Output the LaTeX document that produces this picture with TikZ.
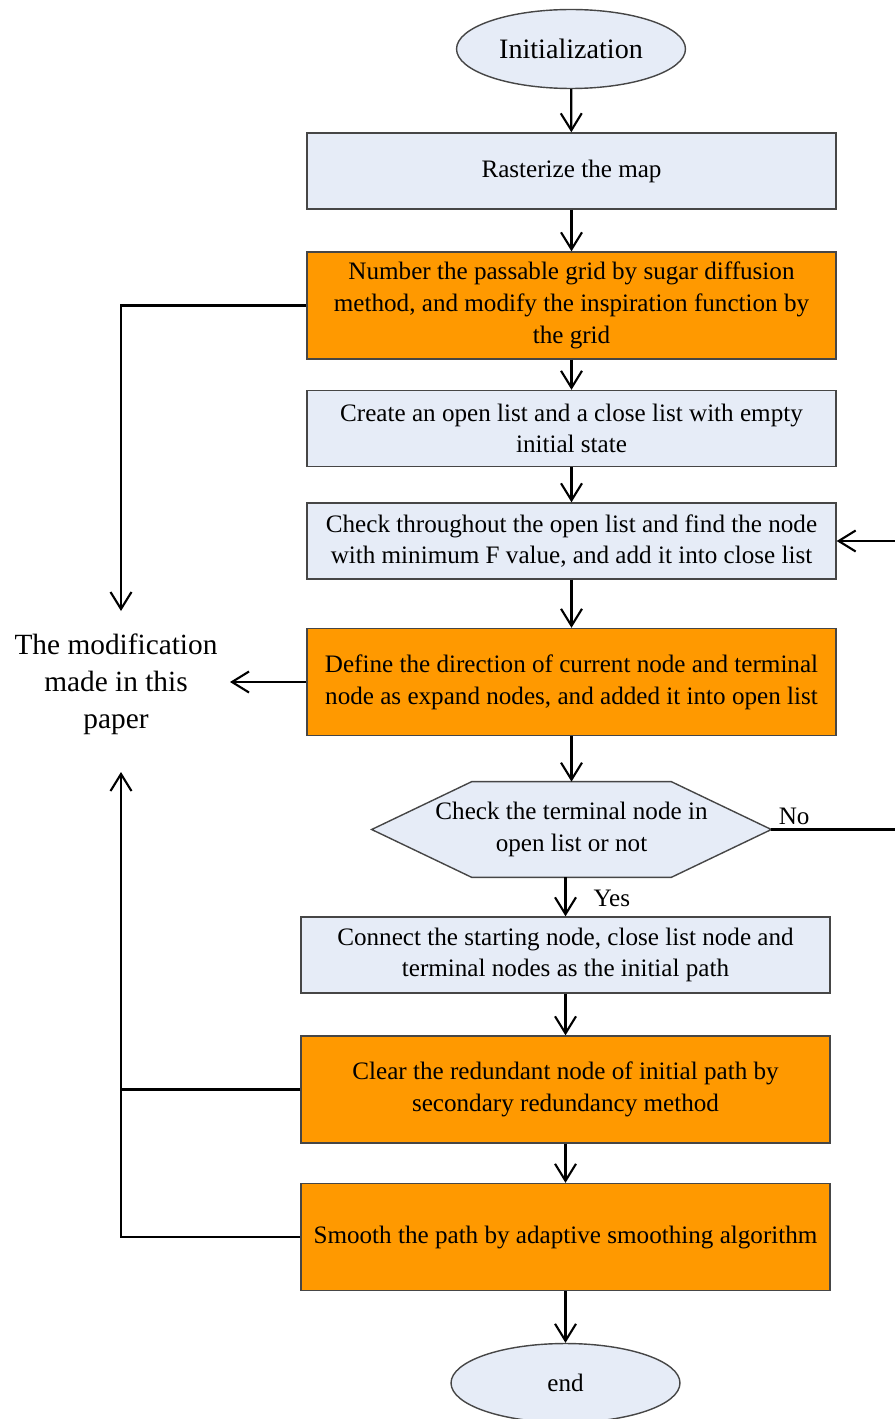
\documentclass[tikz,border=0pt]{standalone}
\usepackage{fontspec}
\setmainfont{Liberation Serif}
\usetikzlibrary{shapes.geometric,arrows.meta,calc}

\definecolor{boxblue}{RGB}{230,236,247}
\definecolor{boxorange}{RGB}{255,153,0}
\definecolor{edgegray}{RGB}{70,70,70}

\begin{document}
\begin{tikzpicture}[x=0.02cm, y=-0.02cm,
  boxtext/.style={font=\fontsize{14.3}{18.1}\selectfont, align=center},
  plainbox/.style={boxtext, draw=edgegray, line width=0.8pt, fill=boxblue,
    minimum width=10.58cm, minimum height=1.52cm, inner sep=0pt},
  hotbox/.style={plainbox, fill=boxorange, minimum height=2.14cm},
  terminal/.style={ellipse, draw=edgegray, line width=0.8pt, fill=boxblue,
    minimum width=4.58cm, minimum height=1.58cm, inner sep=0pt},
  flow/.style={draw=black, line width=1.3pt,
    -{Straight Barb[length=0.34cm,width=0.42cm,line width=1.2pt]}},
  line/.style={draw=black, line width=1.3pt}
]
\useasboundingbox (0,0) rectangle (895,1419);
\clip (0,0) rectangle (895,1419);

% main column
\node[terminal, font=\fontsize{16}{19}\selectfont] (init) at (571,49) {Initialization};
\node[plainbox] (rast) at (571.5,171) {Rasterize the map};
\node[hotbox] (sugar) at (571.5,305.5) {Number the passable grid by sugar diffusion\\method, and modify the inspiration function by\\the grid};
\node[plainbox] (lists) at (571.5,428.5) {Create an open list and a close list with empty\\initial state};
\node[plainbox] (minf) at (571.5,541) {Check throughout the open list and find the node\\with minimum F value, and add it into close list};
\node[hotbox] (expand) at (571.5,682) {Define the direction of current node and terminal\\node as expand nodes, and added it into open list};

% decision hexagon
\node[boxtext, minimum width=7.98cm, minimum height=1.9cm, inner sep=0pt] (check) at (571.5,829.5) {};
\fill[boxblue, draw=edgegray, line width=0.8pt]
  (check.west) -- ($(check.north west)+(100,0)$) -- ($(check.north east)+(-100,0)$)
  -- (check.east) -- ($(check.south east)+(-100,0)$) -- ($(check.south west)+(100,0)$) -- cycle;
\node[boxtext] at (check) {Check the terminal node in\\open list or not};

\node[plainbox] (connect) at (565.5,955) {Connect the starting node, close list node and\\terminal nodes as the initial path};
\node[hotbox] (clear) at (565.5,1089.5) {Clear the redundant node of initial path by\\secondary redundancy method};
\node[hotbox] (smooth) at (565.5,1237) {Smooth the path by adaptive smoothing algorithm};
\node[terminal, font=\fontsize{14.3}{17}\selectfont] (end) at (565.5,1383) {end};

% side note
\node[font=\fontsize{16.7}{21}\selectfont, align=center, inner sep=0pt] (note) at (116,684) {The modification\\made in this\\paper};

% main flow
\draw[flow] (init) -- (rast);
\draw[flow] (rast) -- (sugar);
\draw[flow] (sugar) -- (lists);
\draw[flow] (lists) -- (minf);
\draw[flow] (minf) -- (expand);
\draw[flow] (expand) -- (check.north);
\draw[flow] (connect.north |- check.south) -- node[right, boxtext, xshift=12pt, yshift=-1pt] {Yes} (connect.north);
\draw[flow] (connect) -- (clear);
\draw[flow] (clear) -- (smooth);
\draw[flow] (smooth) -- (end);

% loop back when the terminal node is not yet in the open list
\coordinate (rightrail) at (898,829.5);
\draw[line] (check.east) -- node[above, boxtext, pos=0.18, yshift=-1pt] {No} (rightrail);
\draw[flow] (rightrail) -- (rightrail |- minf.east) -- (minf.east);

% links to the side note
\coordinate (notetop) at (121,611);
\coordinate (notebottom) at (121,772);
\coordinate (noteright) at (230,682);
\draw[flow] (sugar.west) -| (notetop);
\draw[flow] (expand.west) -- (noteright);
\draw[flow] (clear.west) -| (notebottom);
\draw[line] (smooth.west) -| (121,1089.5);
\end{tikzpicture}
\end{document}
